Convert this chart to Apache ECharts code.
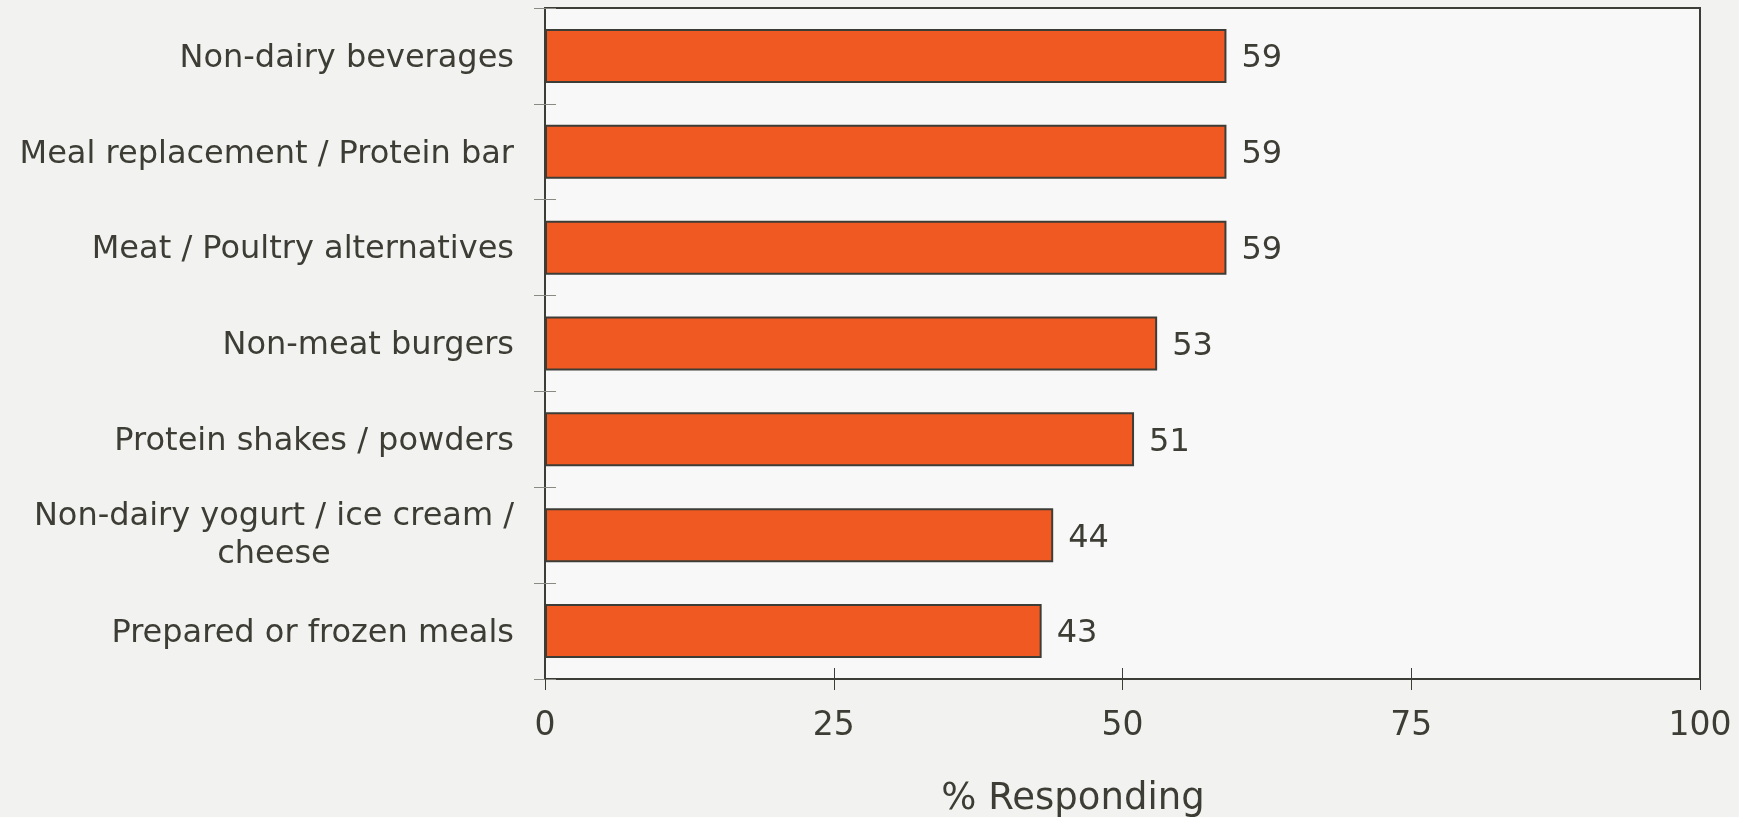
<!DOCTYPE html>
<html>
<head>
<meta charset="utf-8">
<script src="https://cdn.jsdelivr.net/npm/echarts@6/dist/echarts.min.js"></script>
<style>
  html, body { margin: 0; padding: 0; background: #f2f2f0; }
  #chart { width: 1739px; height: 817px; }
</style>
</head>
<body>
<div id="chart"></div>
<script>
const categories = [
  'Non-dairy beverages',
  'Meal replacement / Protein bar',
  'Meat / Poultry alternatives',
  'Non-meat burgers',
  'Protein shakes / powders',
  'Non-dairy yogurt / ice cream /\ncheese',
  'Prepared or frozen meals'
];
const values = [59, 59, 59, 53, 51, 44, 43];
const xTicks = [0, 25, 50, 75, 100];

const TEXT = '#3d3d35';
const LINE = '#3d3d38';
const FONT = 'DejaVu Sans';

const chart = echarts.init(document.getElementById('chart'));

// wrapped label: second line centred under the first
function catLabel(v) {
  if (v.indexOf('\n') >= 0) {
    return v.split('\n').map(s => '{w|' + s + '}').join('\n');
  }
  return '{n|' + v + '}';
}

chart.setOption({
  backgroundColor: '#f2f2f0',
  animation: false,
  textStyle: { fontFamily: FONT },
  title: {
    text: '% Responding',
    left: 1068,
    top: 776,
    textAlign: 'center',
    textStyle: { fontFamily: FONT, fontSize: 37, fontWeight: 'normal', color: TEXT }
  },
  grid: {
    left: 545, right: 39, top: 8, bottom: 138,
    show: true,
    backgroundColor: '#f8f8f8',
    borderColor: LINE,
    borderWidth: 2
  },
  xAxis: [{
    type: 'value',
    min: 0, max: 100, interval: 25,
    axisLine: { show: true, lineStyle: { color: LINE, width: 2 } },
    axisTick: { show: true, length: 11, lineStyle: { color: LINE, width: 1 } },
    splitLine: { show: false },
    axisLabel: {
      margin: 31, fontSize: 33, color: TEXT, fontFamily: FONT,
      formatter: v => xTicks.indexOf(v) >= 0 ? String(v) : ''
    }
  }, {
    type: 'value',
    position: 'bottom',
    min: 0, max: 100, interval: 25,
    axisLine: { show: false },
    axisTick: { show: true, inside: true, length: 11, lineStyle: { color: LINE, width: 1 } },
    splitLine: { show: false },
    axisLabel: { show: false }
  }],
  yAxis: [{
    type: 'category',
    data: categories,
    inverse: true,
    axisLine: { show: true, lineStyle: { color: LINE, width: 2 } },
    axisTick: { show: true, length: 11, lineStyle: { color: '#8a8a85', width: 1 } },
    axisLabel: {
      margin: 31, fontSize: 32, color: TEXT, fontFamily: FONT, lineHeight: 38,
      formatter: catLabel,
      rich: {
        n: { fontSize: 32, color: TEXT, fontFamily: FONT, lineHeight: 38, padding: [5, 0, 0, 0] },
        w: { width: 480, align: 'center', fontSize: 32, color: TEXT, fontFamily: FONT, lineHeight: 38 }
      }
    }
  }, {
    type: 'category',
    data: categories,
    inverse: true,
    position: 'left',
    axisLine: { show: false },
    axisTick: { show: true, inside: true, length: 11, lineStyle: { color: '#8a8a85', width: 1 } },
    axisLabel: { show: false }
  }],
  series: [{
    type: 'bar',
    data: values,
    barWidth: 54,
    itemStyle: { color: '#f05a22', borderColor: LINE, borderWidth: 2 },
    label: {
      show: true, position: 'right', distance: 15, offset: [0, 3],
      fontSize: 32, color: TEXT, fontFamily: FONT
    }
  }]
});
</script>
</body>
</html>
